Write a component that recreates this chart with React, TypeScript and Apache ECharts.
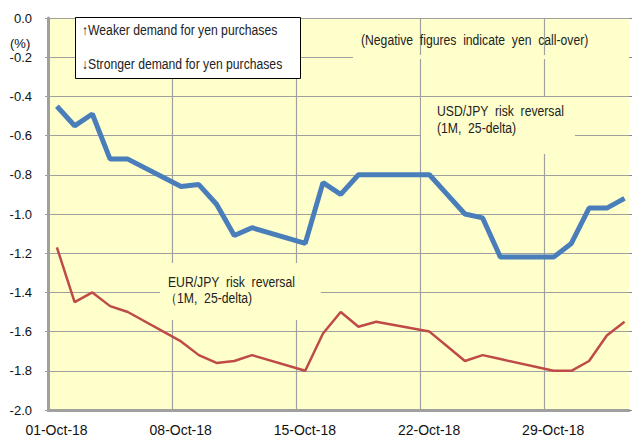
import React, { useEffect, useRef } from "react";
import * as echarts from "echarts";

// Business days (weekends skipped)
const dates = [
  "2018-10-01", "2018-10-02", "2018-10-03", "2018-10-04", "2018-10-05",
  "2018-10-08", "2018-10-09", "2018-10-10", "2018-10-11", "2018-10-12",
  "2018-10-15", "2018-10-16", "2018-10-17", "2018-10-18", "2018-10-19",
  "2018-10-22", "2018-10-23", "2018-10-24", "2018-10-25", "2018-10-26",
  "2018-10-29", "2018-10-30", "2018-10-31", "2018-11-01", "2018-11-02",
];

const usdJpy = [
  -0.45, -0.55, -0.49, -0.72, -0.72,
  -0.86, -0.85, -0.95, -1.11, -1.07,
  -1.15, -0.84, -0.9, -0.8, -0.8,
  -0.8, -0.9, -1.0, -1.02, -1.22,
  -1.22, -1.15, -0.97, -0.97, -0.92,
];

const eurJpy = [
  -1.17, -1.45, -1.4, -1.47, -1.5,
  -1.65, -1.72, -1.76, -1.75, -1.72,
  -1.8, -1.61, -1.5, -1.575, -1.55,
  -1.6, -1.675, -1.75, -1.72, -1.74,
  -1.8, -1.8, -1.75, -1.62, -1.55,
];

const xTickLabels = ["01-Oct-18", "08-Oct-18", "15-Oct-18", "22-Oct-18", "29-Oct-18"];

const startMs = Date.UTC(2018, 9, 1);
const dayIndex = (d: string) => {
  const [y, m, dd] = d.split("-").map(Number);
  return (Date.UTC(y, m - 1, dd) - startMs) / 86400000 + 0.5;
};

const FONT = "'Liberation Sans', Arial, sans-serif";
const BG = "#FFFFCC";
const SX = 0.87;

export default function App() {
  const ref = useRef<HTMLDivElement>(null);
  useEffect(() => {
    if (!ref.current) return;
    const chart = echarts.init(ref.current, null, { renderer: "svg" });
    const textStyle = { fontFamily: FONT, fontSize: 14, fill: "#222", textVerticalAlign: "middle" };
    const note = (x: number, y: number, text: string) => ({
      type: "text", z: 11, x, y, scaleX: SX, style: { ...textStyle, text },
    });
    chart.setOption({
      animation: false,
      backgroundColor: "#fff",
      grid: {
        left: 48, right: 3, top: 18, bottom: 29,
        show: true, backgroundColor: BG, borderWidth: 0,
      },
      xAxis: {
        type: "value",
        min: 0,
        max: 32.75,
        interval: 7,
        axisLine: { show: true, onZero: false, lineStyle: { color: "#A0A0A0", width: 3 } },
        axisTick: { show: false },
        splitLine: { show: true, showMaxLine: false, lineStyle: { color: "#A0A0A0", width: 1.2 } },
        axisLabel: {
          fontFamily: FONT, fontSize: 14, color: "#111", margin: 13,
          padding: [0, 0, 0, 17],
          showMaxLabel: false,
          formatter: (v: number) => (v % 7 === 0 ? xTickLabels[v / 7] ?? "" : ""),
        },
      },
      yAxis: [
        {
          type: "value",
          min: -2,
          max: 0,
          interval: 0.2,
          axisLine: { show: true, lineStyle: { color: "#A0A0A0", width: 3 } },
          axisTick: { show: true, length: 3, lineStyle: { color: "#A0A0A0" } },
          splitLine: { show: true, lineStyle: { color: "#A0A0A0", width: 1.2 } },
          axisLabel: {
            fontFamily: FONT, fontSize: 13, color: "#111", margin: 16,
            formatter: (v: number) => v.toFixed(1),
          },
        },
        {
          type: "value",
          position: "right",
          min: -2,
          max: 0,
          interval: 0.2,
          axisLine: { show: false },
          axisTick: { show: true, length: 3, lineStyle: { color: "#888" } },
          splitLine: { show: false },
          axisLabel: { show: false },
        },
      ],
      series: [
        {
          type: "line",
          name: "USD/JPY",
          data: dates.map((d, i) => [dayIndex(d), usdJpy[i]]),
          showSymbol: false,
          symbol: "none",
          lineStyle: { color: "#4A7EBB", width: 5 },
          z: 5,
        },
        {
          type: "line",
          name: "EUR/JPY",
          data: dates.map((d, i) => [dayIndex(d), eurJpy[i]]),
          showSymbol: false,
          symbol: "none",
          lineStyle: { color: "#BE4B48", width: 2.5 },
          z: 5,
        },
      ],
      graphic: [
        { type: "rect", z: 1, shape: { x: 353, y: 55, width: 276, height: 4 }, style: { fill: BG } },
        { type: "rect", z: 1, shape: { x: 421, y: 97, width: 154, height: 57 }, style: { fill: BG } },
        { type: "rect", z: 1, shape: { x: 160, y: 263, width: 161, height: 57 }, style: { fill: BG } },
        {
          type: "rect", z: 10,
          shape: { x: 75.5, y: 17.5, width: 225, height: 61 },
          style: { fill: "#fff", stroke: "#000", lineWidth: 1 },
        },
        note(82, 30, "↑Weaker demand for yen purchases"),
        note(82, 64, "↓Stronger demand for yen purchases"),
        note(361, 40, "(Negative  figures  indicate  yen  call-over)"),
        note(437, 111, "USD/JPY  risk  reversal"),
        note(437, 128, "(1M,  25-delta)"),
        note(168, 282, "EUR/JPY  risk  reversal"),
        note(165, 298, "（1M,  25-delta)"),
        { type: "text", z: 11, x: 10, y: 43, style: { fontFamily: FONT, fontSize: 13, fill: "#111", text: "(%)", textVerticalAlign: "middle" } },
      ],
    });
    return () => chart.dispose();
  }, []);
  return <div ref={ref} style={{ position: "absolute", left: 0, top: 0, width: 632, height: 439 }} />;
}
